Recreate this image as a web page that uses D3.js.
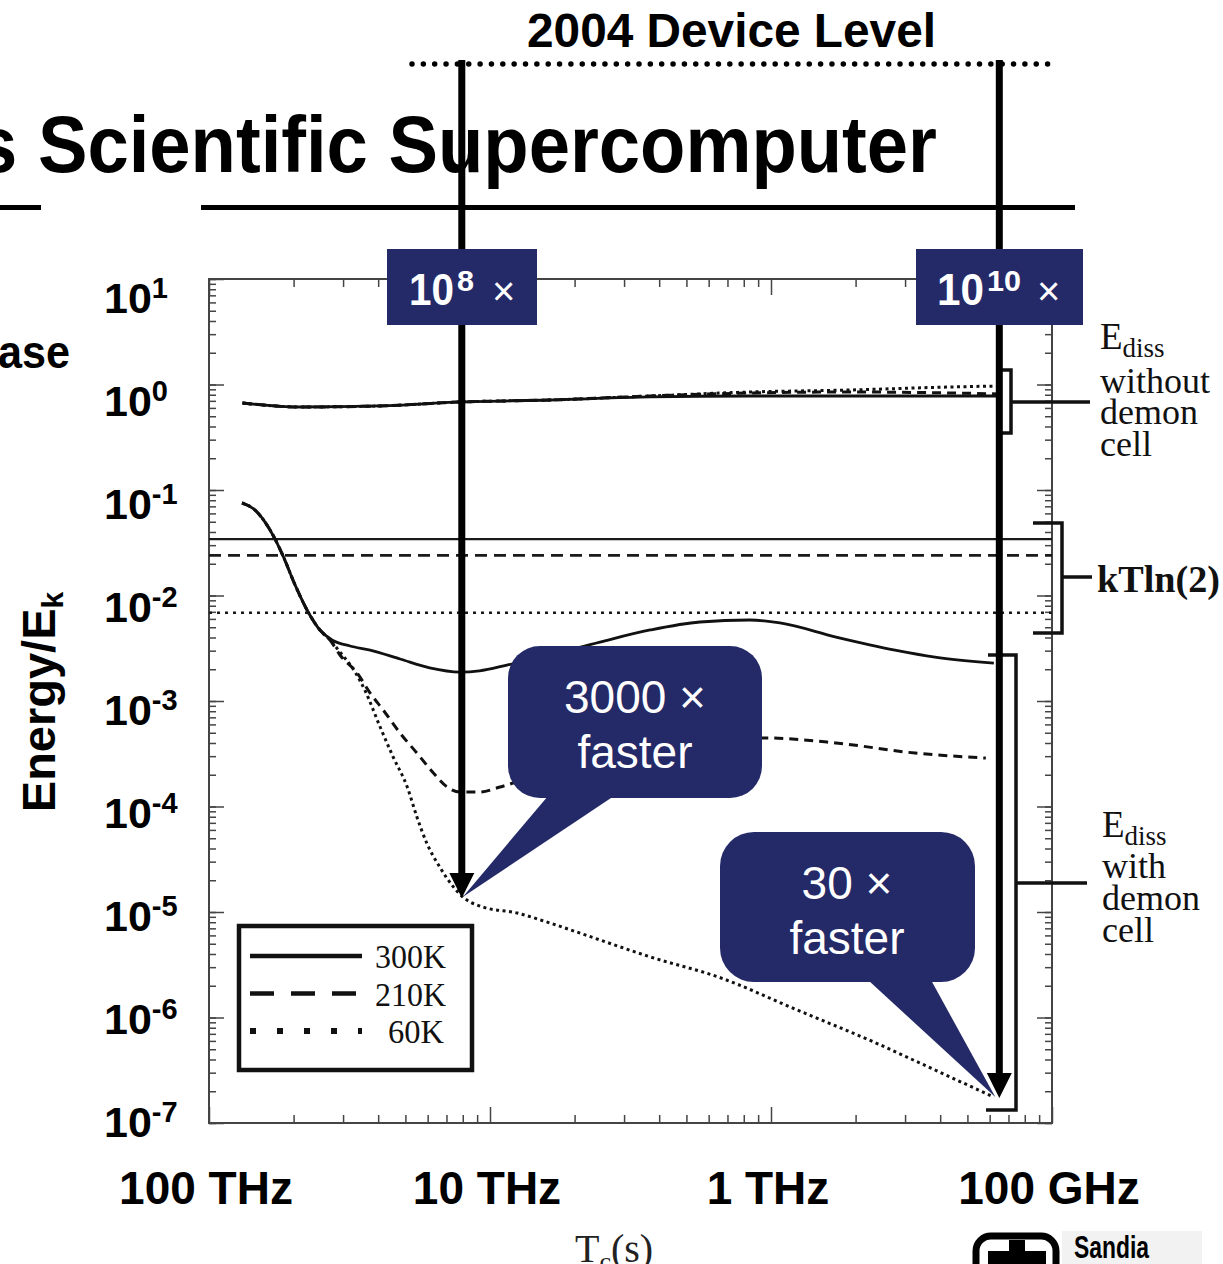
<!DOCTYPE html>
<html><head><meta charset="utf-8">
<script src="https://cdn.jsdelivr.net/npm/d3@7"></script>
<style>body{margin:0;background:#fff;overflow:hidden}svg{display:block}</style>
</head><body>
<svg id="c" width="1223" height="1264"></svg>
<script>
// ---------------- data ----------------
const seriesNames = ["300K","210K","60K"];
// kT ln(2) levels (normalised energy)
const kTln2 = [0.0343, 0.0240, 0.00686];
// upper curves: E_diss without demon cell (frequency in THz)
const upperFreq = [76.0,47.4,24.6,12.8,6.12,2.69,1.19,0.524,0.231,0.153];
const upper300 = [0.668,0.612,0.626,0.683,0.713,0.762,0.778,0.778,0.778,0.778];
const upper210 = [0.668,0.612,0.626,0.683,0.713,0.778,0.831,0.849,0.831,0.813];
const upper60  = [0.668,0.612,0.626,0.683,0.713,0.778,0.849,0.887,0.947,0.968];
// lower curves: E_diss with demon cell
const lower300Freq = [76.3,68.6,63.2,58.2,54.5,49.4,44.4,40.3,36.5,31.5,26.7,20.9,16.4,12.8,10.9,8.70,6.12,4.06,2.69,1.79,1.19,0.929,0.587,0.362,0.261,0.161];
const lower300 = [0.0753,0.0646,0.0497,0.0343,0.0237,0.0126,0.00698,0.00471,0.00379,0.00332,0.00304,0.00250,0.00206,0.00188,0.00193,0.00219,0.00273,0.00362,0.00471,0.00561,0.00586,0.00549,0.00404,0.00304,0.00261,0.00229];
const lower210Freq = [76.3,68.6,63.2,58.2,54.5,49.4,44.4,40.3,37.1,34.2,29.7,26.7,24.0,20.9,18.2,15.9,14.2,12.8,10.9,9.21,6.12,4.06,2.69,1.79,1.05,0.587,0.307,0.172];
const lower210 = [0.0753,0.0646,0.0497,0.0343,0.0237,0.0126,0.00698,0.00471,0.00379,0.00273,0.00184,0.00119,0.000822,0.000497,0.000321,0.000208,0.000153,0.000137,0.000137,0.000153,0.000222,0.000308,0.000383,0.000436,0.000446,0.000400,0.000321,0.000288];
const lower60Freq = [76.3,68.6,63.2,58.2,54.5,49.4,44.4,40.3,37.1,34.2,30.2,27.9,24.6,22.1,19.7,18.2,16.8,15.1,13.5,12.5,10.6,8.01,6.12,4.06,2.69,1.54,0.808,0.423,0.261,0.161];
const lower60 = [0.0753,0.0646,0.0497,0.0343,0.0237,0.0126,0.00698,0.00471,0.00379,0.00291,0.00188,0.00127,0.000567,0.000294,0.000153,7.95e-5,4.51e-5,2.67e-5,1.73e-5,1.39e-5,1.115e-5,9.78e-6,7.86e-6,5.43e-6,3.75e-6,2.42e-6,1.18e-6,5.73e-7,3.18e-7,1.76e-7];
// tick labels
const yDecades = [10,1,0.1,0.01,1e-3,1e-4,1e-5,1e-6,1e-7];
const yExpLabels = ["1","0","-1","-2","-3","-4","-5","-6","-7"];
const xTickVals = [100,10,1,0.1];
const xTickLabels = ["100 THz","10 THz","1 THz","100 GHz"];
// annotated points (arrow targets)
const arrowFreq = [12.6, 0.154];
const arrowTipE = [1.39e-5, 1.76e-7];

// ---------------- setup ----------------
const svg = d3.select("#c");
const SANS = "'Liberation Sans', Arial, sans-serif";
const SERIF = "'Liberation Serif', 'Times New Roman', serif";
const NAVY = "#242968";
const x = d3.scaleLog().domain([100,0.1]).range([209,1052]);
const y = d3.scaleLog().domain([10,1e-7]).range([279,1123]);
const yLab = d3.scaleLog().domain([10,1e-7]).range([298,1122]);
const X0 = x.range()[0], X1 = x.range()[1], Y0 = y.range()[0], Y1 = y.range()[1];

const dash = {"300K":null, "210K":"9 6", "60K":"3 3.5"};
const kDash = {"300K":null, "210K":"12 7", "60K":"3 5"};

// ---------------- original chart ----------------
const chart = svg.append("g");
const xMinor = [];
[100,10,1].forEach(b => { for (let k=2;k<=9;k++) xMinor.push(b/k); });
const yMinor = y.ticks();

function addAxis(gen, tx, ty, vals, size){
  const g = chart.append("g").attr("transform",`translate(${tx},${ty})`)
    .call(gen.tickValues(vals).tickSize(size).tickFormat(""));
  g.select(".domain").remove();
  g.selectAll("line").attr("stroke","#444").attr("stroke-width",1.5);
}
addAxis(d3.axisRight(y), X0, 0, yMinor, 7);
addAxis(d3.axisRight(y), X0, 0, yDecades, 15);
addAxis(d3.axisLeft(y), X1, 0, yMinor, 7);
addAxis(d3.axisLeft(y), X1, 0, yDecades, 15);
addAxis(d3.axisBottom(x), 0, Y0, xMinor, 8);
addAxis(d3.axisBottom(x), 0, Y0, xTickVals, 16);
addAxis(d3.axisTop(x), 0, Y1, xMinor, 8);
addAxis(d3.axisTop(x), 0, Y1, xTickVals, 16);
chart.append("rect").attr("x",X0).attr("y",Y0).attr("width",X1-X0).attr("height",Y1-Y0)
  .attr("fill","none").attr("stroke","#444").attr("stroke-width",2);

// kT ln2 lines
seriesNames.forEach((s,i)=>{
  chart.append("line").attr("x1",X0).attr("x2",X1)
    .attr("y1",y(kTln2[i])).attr("y2",y(kTln2[i]))
    .attr("stroke","#1a1a1a").attr("stroke-width",s==="300K"?2.2:2.6)
    .attr("stroke-dasharray",kDash[s]);
});

const line = d3.line().x(d=>x(d[0])).y(d=>y(d[1])).curve(d3.curveMonotoneX);
const curves = [
  ["300K", upperFreq, upper300], ["210K", upperFreq, upper210], ["60K", upperFreq, upper60],
  ["300K", lower300Freq, lower300], ["210K", lower210Freq, lower210], ["60K", lower60Freq, lower60]
];
curves.forEach(([s,f,e])=>{
  chart.append("path").attr("d", line(d3.zip(f,e)))
    .attr("fill","none").attr("stroke","#111").attr("stroke-width",s==="300K"?2.8:3)
    .attr("stroke-dasharray",dash[s]);
});

// legend
const lg = chart.append("g");
lg.append("rect").attr("x",239).attr("y",926).attr("width",233).attr("height",144)
  .attr("fill","#fff").attr("stroke","#111").attr("stroke-width",4.5);
const legDash = {"300K":null,"210K":"24 17","60K":"6 21"};
const legX = [375,375,388];
seriesNames.forEach((s,i)=>{
  const yy = 956 + i*37.5;
  lg.append("line").attr("x1",250).attr("x2",362).attr("y1",yy).attr("y2",yy)
    .attr("stroke","#111").attr("stroke-width",s==="60K"?6:4.5).attr("stroke-dasharray",legDash[s]);
  lg.append("text").attr("x",legX[i]).attr("y",yy+12).text(s)
    .attr("font-family",SERIF).attr("font-size",34).attr("fill","#111")
    .attr("textLength", s==="60K"?56:71).attr("lengthAdjust","spacingAndGlyphs");
});

// right-hand brackets & labels
const br = chart.append("g").attr("fill","none").attr("stroke","#111").attr("stroke-width",3.5);
br.append("path").attr("d","M1000,370 H1011 V433 H1000 M1011,402 H1090");
br.append("path").attr("d","M1033,523 H1062 V633 H1033 M1062,577 H1092");
br.append("path").attr("d","M988,655 H1016 V1110 H986 M1016,883 H1087");

function ediss(x0, yE, lines, dy){
  const g = chart.append("g").attr("font-family",SERIF).attr("fill","#111");
  const t = g.append("text").attr("x",x0).attr("y",yE).attr("font-size",37);
  t.append("tspan").text("E");
  t.append("tspan").text("diss").attr("font-size",27).attr("dy",8);
  lines.forEach((l,i)=> g.append("text").attr("x",x0).attr("y",dy[i]).attr("font-size",36).text(l));
}
ediss(1100, 349, ["without","demon","cell"], [393,424,456]);
ediss(1102, 837, ["with","demon","cell"], [878,910,942]);
chart.append("text").attr("x",1097).attr("y",592).text("kTln(2)")
  .attr("font-family",SERIF).attr("font-weight","bold").attr("font-size",37).attr("fill","#111")
  .attr("textLength",123).attr("lengthAdjust","spacingAndGlyphs");

// T_c(s)
const tc = chart.append("text").attr("x",575).attr("y",1262).attr("font-family",SERIF)
  .attr("font-size",40).attr("fill","#222");
tc.append("tspan").text("T");
tc.append("tspan").text("c").attr("font-size",26).attr("dy",8);
tc.append("tspan").text("(s)").attr("dy",-8);

// ---------------- slide overlay ----------------
const ov = svg.append("g");
ov.append("text").attr("x",527).attr("y",47).text("2004 Device Level")
  .attr("font-family",SANS).attr("font-weight","bold").attr("font-size",48)
  .attr("textLength",409).attr("lengthAdjust","spacingAndGlyphs");
ov.append("line").attr("x1",412).attr("x2",1058).attr("y1",64).attr("y2",64)
  .attr("stroke","#000").attr("stroke-width",5.5).attr("stroke-linecap","round")
  .attr("stroke-dasharray","0 11.35");
ov.append("text").attr("x",-24).attr("y",172).text("s Scientific Supercomputer")
  .attr("font-family",SANS).attr("font-weight","bold").attr("font-size",80)
  .attr("textLength",961).attr("lengthAdjust","spacingAndGlyphs");
ov.append("rect").attr("x",0).attr("y",205).attr("width",41).attr("height",5);
ov.append("rect").attr("x",201).attr("y",205).attr("width",874).attr("height",5);
ov.append("text").attr("x",-2).attr("y",368).text("ase")
  .attr("font-family",SANS).attr("font-weight","bold").attr("font-size",46)
  .attr("textLength",72).attr("lengthAdjust","spacingAndGlyphs");

// y axis title
const yt = ov.append("text").attr("transform","translate(55,702) rotate(-90)")
  .attr("text-anchor","middle").attr("font-family",SANS).attr("font-weight","bold").attr("font-size",47);
yt.append("tspan").text("Energy/E");
yt.append("tspan").text("k").attr("font-size",30).attr("dy",8);

// y tick labels
yDecades.forEach((v,i)=>{
  const t = ov.append("text").attr("x",104).attr("y",yLab(v)+15)
    .attr("font-family",SANS).attr("font-weight","bold");
  t.append("tspan").text("10").attr("font-size",43);
  t.append("tspan").text(yExpLabels[i]).attr("font-size",29).attr("dy",-15);
});
// x tick labels
xTickVals.forEach((v,i)=>{
  ov.append("text").attr("x",x(v)-3).attr("y",1204).attr("text-anchor","middle")
    .attr("font-family",SANS).attr("font-weight","bold").attr("font-size",46).text(xTickLabels[i]);
});

// vertical arrows
arrowFreq.forEach((f,i)=>{
  const ax = x(f), tip = y(arrowTipE[i]);
  ov.append("line").attr("x1",ax).attr("x2",ax).attr("y1",60).attr("y2",tip-20)
    .attr("stroke","#000").attr("stroke-width",7);
});

// multiplier boxes
function multBox(bx, w, sup, mainX, tl, supX, supL, timesX){
  ov.append("rect").attr("x",bx).attr("y",249).attr("width",w).attr("height",76).attr("fill",NAVY);
  ov.append("text").attr("x",mainX).attr("y",305).text("10").attr("fill","#fff")
    .attr("font-family",SANS).attr("font-weight","bold").attr("font-size",45)
    .attr("textLength",tl).attr("lengthAdjust","spacingAndGlyphs");
  ov.append("text").attr("x",supX).attr("y",291).text(sup).attr("fill","#fff")
    .attr("font-family",SANS).attr("font-weight","bold").attr("font-size",29)
    .attr("textLength",supL).attr("lengthAdjust","spacingAndGlyphs");
  ov.append("text").attr("x",timesX).attr("y",305).text("×").attr("fill","#fff")
    .attr("font-family",SANS).attr("font-size",40);
}
multBox(387, 150, "8", 409, 45, 457, 17, 492);
multBox(916, 167, "10", 937, 47, 987, 34, 1037);

// speech bubbles
function bubble(rx, ry, w, h, r, tail, l1, l2, cx, b1, b2){
  ov.append("rect").attr("x",rx).attr("y",ry).attr("width",w).attr("height",h).attr("rx",r).attr("fill",NAVY);
  ov.append("path").attr("d",d3.line()(tail)+"Z").attr("fill",NAVY);
  [l1,l2].forEach((t,i)=> ov.append("text").attr("x",cx).attr("y",i?b2:b1).attr("text-anchor","middle")
    .attr("fill","#fff").attr("font-family",SANS).attr("font-size",46).text(t));
}
const tip1 = [x(arrowFreq[0])+1, y(arrowTipE[0])];
const tip2 = [x(arrowFreq[1])-4, y(arrowTipE[1])];
bubble(508, 646, 254, 152, 32, [[548,796],[614,796],tip1], "3000 ×", "faster", 635, 713, 768);
bubble(720, 832, 255, 150, 34, [[868,980],[931,980],tip2], "30 ×", "faster", 847, 899, 954);

// arrow heads
arrowFreq.forEach((f,i)=>{
  const ax = x(f), tip = y(arrowTipE[i]);
  ov.append("path").attr("d",`M${ax-12.5},${tip-24} L${ax+12.5},${tip-24} L${ax},${tip+1} Z`).attr("fill","#000");
});

// Sandia logo (cropped at bottom)
ov.append("rect").attr("x",1062).attr("y",1231).attr("width",140).attr("height",40).attr("fill","#f2f2f2");
ov.append("rect").attr("x",976).attr("y",1236).attr("width",80).attr("height",60).attr("rx",15)
  .attr("fill","#fff").attr("stroke","#000").attr("stroke-width",7);
ov.append("rect").attr("x",1009).attr("y",1240).attr("width",16).attr("height",26).attr("fill","#000");
ov.append("rect").attr("x",988).attr("y",1251).attr("width",58).attr("height",15).attr("fill","#000");
ov.append("text").attr("x",1074).attr("y",1258).text("Sandia")
  .attr("font-family","'Liberation Sans Narrow', "+SANS).attr("font-weight","bold").attr("font-size",31)
  .attr("textLength",75).attr("lengthAdjust","spacingAndGlyphs");
</script>
</body></html>
